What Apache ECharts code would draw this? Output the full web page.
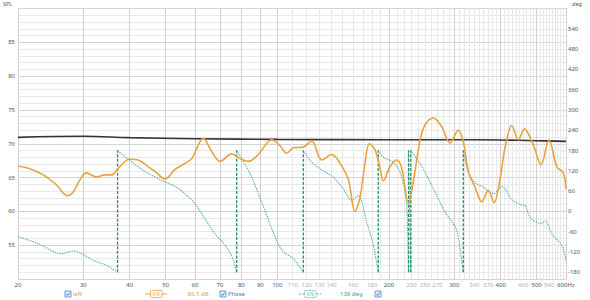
<!DOCTYPE html>
<html><head><meta charset="utf-8">
<script src="https://cdn.jsdelivr.net/npm/echarts@6/dist/echarts.min.js"></script>
<style>html,body{margin:0;padding:0;background:#fff}#c{width:590px;height:300px}</style>
</head><body><div id="c"></div>
<script>
// SPL (left) response
const splFreq = [20,21.5,23.4,25.4,27.2,28.2,29.4,30.6,32.5,34.3,35.8,37.3,40,42.6,45.4,46.8,49.8,53,56.4,58.8,63.2,66.5,70.1,75.3,79.3,83.5,88.9,96.6,101.7,106,110.5,117.5,123.8,131.7,140.2,147.6,155.4,161.9,167,172.3,177,183.4,189.2,193.1,201.2,209.8,216.4,225.5,232.6,242.5,250.2,263.4,277.5,292,307.6,317.2,327.3,341,355.7,370.5,384,398.4,410.9,428.6,446.5,463.2,489.8,513.7,540,566.5,590,600];
const splDb = [66.7,66.3,65.4,63.9,62.3,62.9,64.7,65.7,65.1,65.4,65.4,66.4,67.7,67.5,66.4,65.9,64.8,66.2,67.1,67.8,70.8,68.9,67.4,68.5,67.8,67.4,68.4,70.6,69.7,68.6,69.4,69.5,70.4,67.6,68.4,67.1,64.7,60.0,62.0,67.1,70.0,69.1,66.4,64.5,66.6,67.6,66.4,61.2,64.4,70.5,72.8,73.8,72.5,70.1,72.0,70.3,65.9,63.6,61.4,63.1,61.3,64.8,69.4,72.7,70.6,72.2,69.85,66.9,70.6,66.6,65.7,63.3];
// reference (black) trace
const refFreq = [20,30,40,60,100,200,300,400,500,600];
const refDb = [70.95,71.1,70.9,70.75,70.65,70.6,70.6,70.55,70.45,70.35];
// phase (right axis, degrees), wrap points repeated at -180 / +180
const phaseFreq = [20,22.6,26.2,28.2,29.7,31.9,34.7,37.1, 37.1,40,44,49.8,53,56.4,60,63.8,67.9,72.3,75.6,77.7, 77.7,80.2,85.3,90.8,96.6,99.6,103.6,110.5,117.5, 117.5,122.5,130.3,141.5,150.6,158.7,165.3,174.2,181.5,187.1, 187.1,193.1,205.4,214.2,221,223.7,225.8, 225.8,229, 229,242.5,250.2,266.2,274.5,283.2,292,304.4,310.8,317.2, 317.2,324,332,345,358,370,383,395,404,415,428,451,465,480,500,515,528,549,563,580,592,600];
const phaseDeg = [-74,-95,-125,-117,-125,-145,-160,-180, 180,151,118,87,74,52,23,-22,-66,-100,-135,-180, 180,156,101,27,-51,-86,-118,-140,-180, 180,151,126,101,67,32,47,-32,-100,-180, 180,160,146,116,57,0,-180, 180,-180, 180,141,116,57,27,-2,-22,-55,-110,-180, 180,130,100,80,74,60,52,65,74,60,35,20,18,-18,-32,-36,-28,-66,-80,-95,-115,-145];
const wrapFreq = [37.1,77.7,117.5,187.1,225.8,229,317.2];
// axis ticks
const majorFreqTicks = [20,30,40,50,60,70,80,90,100,200,300,400,500,600];
const minorFreqLabels = [110,120,130,140,160,180,230,250,270,340,370,460,540];
const minorFreqGrid = [110,120,130,140,150,160,170,180,190,210,220,230,240,250,260,270,280,290,310,320,330,340,350,360,370,380,390,410,420,430,440,450,460,470,480,490,510,520,530,540,550,560,570,580,590];
const splTickLabels = [55,60,65,70,75,80,85];
const degTickLabels = [-180,-120,-60,0,60,120,180,240,300,360,420,480,540];

const ORANGE = '#e8a33c', TEAL = '#5cb3a4', WRAP = '#1f8d66';
const FONT = 'Noto Sans';

const splData = splFreq.map((f, i) => [f, splDb[i]]);
const refData = refFreq.map((f, i) => [f, refDb[i]]);
const phaseData = [];
for (let i = 0; i < phaseFreq.length; i++) {
  if (i > 0 && phaseFreq[i] === phaseFreq[i - 1]) phaseData.push([phaseFreq[i], '-']);
  phaseData.push([phaseFreq[i], phaseDeg[i]]);
}
const wrapData = [];
wrapFreq.forEach(w => { wrapData.push([w, -180], [w, 180], [w, '-']); });

function checkbox(x, y) {
  return [
    {type: 'rect', shape: {x: x, y: y, width: 6, height: 6}, style: {fill: '#e9f1fb', stroke: '#4a86cf', lineWidth: 0.8}},
    {type: 'polyline', shape: {points: [[x + 1.3, y + 3.1], [x + 2.6, y + 4.5], [x + 4.8, y + 1.5]]}, style: {stroke: '#2f6fbf', lineWidth: 0.9, fill: null}}
  ];
}
function txt(x, y, s, color, size, align) {
  return {type: 'text', x: x, y: y, style: {text: s, fill: color, font: (size || 6) + 'px "' + FONT + '"', textAlign: align || 'left', textVerticalAlign: 'middle'}};
}

const chart = echarts.init(document.getElementById('c'), null, {renderer: 'svg'});
chart.setOption({
  animation: false,
  backgroundColor: '#ffffff',
  grid: {left: 18, right: 24, top: 8.5, bottom: 21},
  xAxis: [
    {type: 'log', logBase: 10, min: 20, max: 600, position: 'bottom',
     axisLine: {show: true, lineStyle: {color: '#cfcfcf'}},
     axisTick: {show: false, customValues: majorFreqTicks},
     axisLabel: {customValues: majorFreqTicks, color: '#555', fontSize: 6, fontFamily: FONT, margin: 3,
       formatter: v => (Math.round(v) === 600 ? '600Hz' : String(Math.round(v)))},
     splitLine: {show: true, lineStyle: {color: '#d0d0d0', width: 1}}},
    {type: 'log', logBase: 10, min: 20, max: 600, position: 'bottom',
     axisLine: {show: false},
     axisTick: {show: false, customValues: minorFreqGrid},
     axisLabel: {customValues: minorFreqLabels, color: '#b0b0b0', fontSize: 6, fontFamily: FONT, margin: 3,
       formatter: v => String(Math.round(v))},
     splitLine: {show: true, lineStyle: {color: '#e8e8e8', width: 1}}}
  ],
  yAxis: [
    {type: 'value', min: 50, max: 90, interval: 1, position: 'left',
     axisLine: {show: true, lineStyle: {color: '#cfcfcf'}},
     axisTick: {show: false},
     axisLabel: {color: '#555', fontSize: 6, fontFamily: FONT, margin: 3,
       formatter: v => (splTickLabels.indexOf(v) >= 0 ? String(v) : '')},
     splitLine: {show: true, lineStyle: {color: ['#d4d4d4', '#e9e9e9', '#e9e9e9', '#e9e9e9', '#e9e9e9'], width: 1}}},
    {type: 'value', min: -200, max: 600, interval: 20, position: 'right',
     axisLine: {show: true, lineStyle: {color: '#cfcfcf'}},
     axisTick: {show: false},
     axisLabel: {color: '#555', fontSize: 6, fontFamily: FONT, margin: 2,
       formatter: v => (degTickLabels.indexOf(v) >= 0 ? String(v) : '')},
     splitLine: {show: false}}
  ],
  series: [
    {type: 'line', name: 'Phase', xAxisIndex: 0, yAxisIndex: 1, data: phaseData, showSymbol: false, symbol: 'none',
     smooth: 0.3, connectNulls: false, lineStyle: {color: TEAL, width: 1.1, type: [1.5, 1]}, z: 2},
    {type: 'line', name: 'wrap', xAxisIndex: 0, yAxisIndex: 1, data: wrapData, showSymbol: false, symbol: 'none',
     connectNulls: false, lineStyle: {color: WRAP, width: 1.3, type: [3, 1.6]}, z: 3},
    {type: 'line', name: 'ref', xAxisIndex: 0, yAxisIndex: 0, data: refData, showSymbol: false, symbol: 'none',
     smooth: 0.4, lineStyle: {color: '#333333', width: 1.6}, z: 4},
    {type: 'line', name: 'left', xAxisIndex: 0, yAxisIndex: 0, data: splData, showSymbol: false, symbol: 'none',
     smooth: 0.35, lineStyle: {color: ORANGE, width: 1.6}, z: 5}
  ],
  graphic: [
    txt(3, 4, 'SPL', '#555', 5.5),
    txt(572, 4, 'deg', '#555', 5.5),
    ...checkbox(65, 291),
    txt(73, 294.2, 'left', ORANGE, 6),
    {type: 'line', shape: {x1: 145, y1: 294, x2: 167, y2: 294}, style: {stroke: ORANGE, lineWidth: 1}},
    {type: 'rect', shape: {x: 150.5, y: 290.5, width: 11.5, height: 7, r: 1}, style: {fill: '#fff', stroke: ORANGE, lineWidth: 0.8}},
    txt(156.2, 294.2, 'V/ṽ', ORANGE, 5, 'center'),
    txt(187.5, 294.2, '86.5 dB', ORANGE, 6),
    ...checkbox(220, 291),
    txt(228, 294.2, 'Phase', '#5679a3', 6),
    {type: 'line', shape: {x1: 299, y1: 294, x2: 321, y2: 294}, style: {stroke: TEAL, lineWidth: 1, lineDash: [2, 1.5]}},
    {type: 'rect', shape: {x: 304.5, y: 290.5, width: 11.5, height: 7, r: 1}, style: {fill: '#fff', stroke: TEAL, lineWidth: 0.8, lineDash: [2, 1]}},
    txt(310.2, 294.2, 'V/ṽ', TEAL, 5, 'center'),
    txt(340, 294.2, '139 deg', '#3a9c88', 6),
    ...checkbox(375, 291)
  ]
});
</script>
</body></html>
